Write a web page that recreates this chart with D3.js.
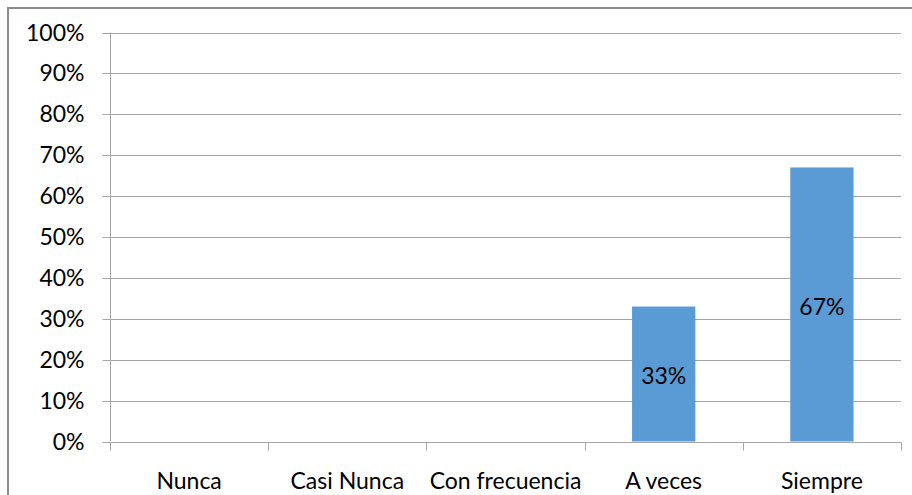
<!DOCTYPE html>
<html>
<head>
<meta charset="utf-8">
<script src="https://cdn.jsdelivr.net/npm/d3@7"></script>
<style>
  html, body { margin: 0; padding: 0; background: #fff; }
  svg { display: block; }
  text { font-family: Lato, "Open Sans", sans-serif; fill: #000; }
</style>
</head>
<body>
<svg id="chart" width="912" height="495"></svg>
<script>
// Response categories and share of answers for each
const categories = ["Nunca", "Casi Nunca", "Con frecuencia", "A veces", "Siempre"];
const shares = [0, 0, 0, 0.33, 0.67];
const barLabels = ["", "", "", "33%", "67%"];
const yTicks = [0, 0.1, 0.2, 0.3, 0.4, 0.5, 0.6, 0.7, 0.8, 0.9, 1.0];

const svg = d3.select("#chart");
const W = 912, H = 495;
const plot = { left: 110, right: 901, top: 32.5, bottom: 441.5 };
const fontSize = "23px";

// Outer frame
svg.append("rect")
  .attr("x", 8).attr("y", 8)
  .attr("width", W + 20).attr("height", H + 20)
  .attr("fill", "none")
  .attr("stroke", "#8c8c8c")
  .attr("stroke-width", 2);

const x = d3.scaleBand()
  .domain(categories)
  .range([plot.left, plot.right])
  .paddingInner(0).paddingOuter(0);

const y = d3.scaleLinear()
  .domain([0, 1])
  .range([plot.bottom, plot.top]);

// Horizontal gridlines
svg.append("g")
  .selectAll("line")
  .data(yTicks.filter(d => d > 0))
  .join("line")
  .attr("x1", plot.left).attr("x2", plot.right)
  .attr("y1", d => Math.round(y(d)) + 0.5)
  .attr("y2", d => Math.round(y(d)) + 0.5)
  .attr("stroke", "#a6a6a6")
  .attr("stroke-width", 1);

// Y axis
const yAxis = svg.append("g")
  .attr("transform", `translate(${plot.left + 0.5},0)`)
  .call(d3.axisLeft(y).tickValues(yTicks).tickFormat(d3.format(".0%")).tickSize(8).tickPadding(18));
yAxis.select(".domain").attr("stroke", "#a6a6a6").attr("d", `M0,${plot.top}V${plot.bottom}`);
yAxis.selectAll(".tick line").attr("stroke", "#a6a6a6");
yAxis.selectAll(".tick text")
  .style("font-size", fontSize)
  .attr("font-family", "Lato, 'Open Sans', sans-serif")
  .attr("fill", "#000");
yAxis.selectAll(".tick").attr("transform", d => `translate(0,${Math.round(y(d)) + 0.5})`);

const barData = categories.map((c, i) => ({ c, v: shares[i], label: barLabels[i] })).filter(d => d.v > 0);

// Bars
const barW = x.bandwidth() * 0.4;
svg.append("g")
  .selectAll("rect")
  .data(barData)
  .join("rect")
  .attr("x", d => x(d.c) + (x.bandwidth() - barW) / 2)
  .attr("y", d => y(d.v))
  .attr("width", barW)
  .attr("height", d => y(0) - y(d.v))
  .attr("fill", "#5b9bd5");

// Value labels centred in the bars
svg.append("g")
  .selectAll("text")
  .data(barData)
  .join("text")
  .attr("x", d => x(d.c) + x.bandwidth() / 2)
  .attr("y", d => (y(d.v) + y(0)) / 2 + 2)
  .attr("dy", "0.35em")
  .attr("text-anchor", "middle")
  .style("font-size", fontSize)
  .text(d => d.label);

// X axis with category boundary ticks
const xg = svg.append("g");
xg.append("line")
  .attr("x1", plot.left).attr("x2", plot.right)
  .attr("y1", Math.round(y(0)) + 0.5).attr("y2", Math.round(y(0)) + 0.5)
  .attr("stroke", "#a6a6a6");
const bounds = categories.map(c => x(c)).concat([plot.right]);
xg.selectAll("line.tick")
  .data(bounds)
  .join("line")
  .attr("class", "tick")
  .attr("x1", d => Math.round(d) + 0.5).attr("x2", d => Math.round(d) + 0.5)
  .attr("y1", Math.round(y(0)) + 0.5).attr("y2", Math.round(y(0)) + 8.5)
  .attr("stroke", "#a6a6a6");
xg.selectAll("text")
  .data(categories)
  .join("text")
  .attr("x", d => x(d) + x.bandwidth() / 2)
  .attr("y", 489)
  .attr("text-anchor", "middle")
  .style("font-size", fontSize)
  .text(d => d);
</script>
</body>
</html>
